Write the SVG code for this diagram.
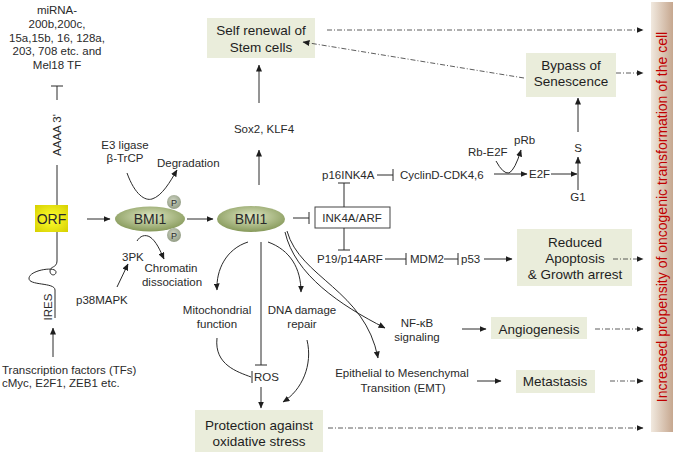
<svg xmlns="http://www.w3.org/2000/svg" width="678" height="453" viewBox="0 0 678 453">
<style>
text{font-family:"Liberation Sans",Arial,sans-serif;fill:#2a2a2a;font-size:11.5px}
.c{text-anchor:middle}
.b{font-size:13.5px;text-anchor:middle;fill:#1e1e1e}
.box{fill:#eaeddb}
.ln{fill:none;stroke:#2a2a2a;stroke-width:1}
.ar{fill:none;stroke:#2a2a2a;stroke-width:1;marker-end:url(#ah)}
.dd{fill:none;stroke:#333;stroke-width:0.8;stroke-dasharray:5 2 1 2;marker-end:url(#ah)}
</style>
<defs>
<marker id="ah" markerWidth="7" markerHeight="6" refX="6.5" refY="3" orient="auto" markerUnits="userSpaceOnUse"><path d="M0,0 L7,3 L0,6 z" fill="#1e1e1e"/></marker>
<radialGradient id="g" cx="50%" cy="40%" r="60%"><stop offset="0" stop-color="#dfe7c3"/><stop offset="1" stop-color="#86995a"/></radialGradient>
<radialGradient id="pg" cx="45%" cy="40%" r="60%"><stop offset="0" stop-color="#d0d6c4"/><stop offset="1" stop-color="#939d85"/></radialGradient>
<radialGradient id="yg" cx="50%" cy="50%" r="70%"><stop offset="0" stop-color="#ffff30"/><stop offset="1" stop-color="#d6d000"/></radialGradient>
<linearGradient id="bar" x1="0" y1="0" x2="1" y2="0"><stop offset="0" stop-color="#f1e9df"/><stop offset="1" stop-color="#c6a78f"/></linearGradient>
</defs>

<g id="bar-node">
<rect x="651" y="2" width="22" height="430" fill="url(#bar)"/>
<text transform="translate(667,217) rotate(-90)" text-anchor="middle" style="font-size:14px;fill:#c00000">Increased propensity of oncogenic transformation of the cell</text>
</g>

<g id="mirna"><text class="c" x="57" y="14">miRNA-</text><text class="c" x="57" y="28">200b,200c,</text><text class="c" x="57" y="42">15a,15b, 16, 128a,</text><text class="c" x="57" y="55">203, 708 etc. and</text><text class="c" x="57" y="69">Mel18 TF</text></g>

<g id="mrna">
<text transform="translate(61,135) rotate(-90)" text-anchor="middle">AAAA 3'</text>
<text transform="translate(52,307) rotate(-90)" text-anchor="middle">IRES</text>
</g>

<g id="orf"><rect x="35" y="205" width="33" height="27" fill="url(#yg)"/><text x="51.5" y="224" class="c" style="font-size:14px">ORF</text></g>

<g id="bmi1a"><ellipse cx="150" cy="219" rx="35" ry="12.5" fill="url(#g)"/><text x="150" y="224" class="c" style="font-size:14px">BMI1</text>
<circle cx="174" cy="202" r="7" fill="url(#pg)"/><text x="174" y="205.5" class="c" style="font-size:9px">P</text>
<circle cx="174" cy="235" r="7" fill="url(#pg)"/><text x="174" y="238.5" class="c" style="font-size:9px">P</text></g>

<g id="bmi1b"><ellipse cx="251" cy="219" rx="34" ry="13" fill="url(#g)"/><text x="251" y="224" class="c" style="font-size:14px">BMI1</text></g>

<g id="e3"><text class="c" x="125" y="149">E3 ligase</text><text class="c" x="125" y="162">β-TrCP</text></g>
<g id="degr"><text x="157" y="167">Degradation</text></g>
<g id="pk3"><text x="122" y="261">3PK</text></g>
<g id="chrom"><text class="c" x="171" y="272">Chromatin</text><text class="c" x="172" y="286">dissociation</text></g>
<g id="p38"><text x="76" y="304">p38MAPK</text></g>
<g id="tfs"><text x="2" y="374">Transcription factors (TFs)</text><text x="2" y="387">cMyc, E2F1, ZEB1 etc.</text></g>

<g id="sox"><text class="c" x="264" y="133">Sox2, KLF4</text></g>
<g id="self"><rect class="box" x="207" y="18" width="108" height="40"/><text class="b" x="261" y="35">Self renewal of</text><text class="b" x="261" y="52">Stem cells</text></g>
<g id="bypass"><rect class="box" x="526" y="53" width="90" height="44"/><text class="b" x="571" y="70">Bypass of</text><text class="b" x="571" y="86">Senescence</text></g>

<g id="ink"><rect x="315" y="207" width="75" height="21" fill="#fff" stroke="#444" stroke-width="1"/><text class="c" x="352" y="222">INK4A/ARF</text></g>
<g id="p16"><text x="322" y="179">p16INK4A</text></g>
<g id="cyc"><text x="400" y="179">CyclinD-CDK4,6</text></g>
<g id="rbe2f"><text x="468" y="156">Rb-E2F</text></g>
<g id="prb"><text x="514" y="144">pRb</text></g>
<g id="e2f"><text x="529" y="178">E2F</text></g>
<g id="s"><text class="c" x="578" y="152">S</text></g>
<g id="g1"><text class="c" x="578" y="201">G1</text></g>
<g id="p19"><text x="317" y="263">P19/p14ARF</text></g>
<g id="mdm2"><text x="410" y="263">MDM2</text></g>
<g id="p53"><text x="461" y="263">p53</text></g>
<g id="reduced"><rect class="box" x="517" y="229" width="115" height="57"/><text class="b" x="575" y="247">Reduced</text><text class="b" x="575" y="263">Apoptosis</text><text class="b" x="575" y="279">&amp; Growth arrest</text></g>

<g id="nfkb"><text class="c" x="417" y="327">NF-κB</text><text class="c" x="417" y="341">signaling</text></g>
<g id="angio"><rect class="box" x="491" y="317" width="96" height="22"/><text class="b" x="539" y="334">Angiogenesis</text></g>
<g id="emt"><text class="c" x="402" y="377">Epithelial to Mesenchymal</text><text class="c" x="403" y="392">Transition (EMT)</text></g>
<g id="meta"><rect class="box" x="516" y="370" width="79" height="23"/><text class="b" x="555" y="386">Metastasis</text></g>

<g id="mito"><text class="c" x="217" y="314">Mitochondrial</text><text class="c" x="217" y="328">function</text></g>
<g id="dna"><text class="c" x="302" y="314">DNA damage</text><text class="c" x="302" y="328">repair</text></g>
<g id="ros"><text x="254" y="381">ROS</text></g>
<g id="prot"><rect class="box" x="195" y="410" width="128" height="42"/><text class="b" x="259" y="430">Protection against</text><text class="b" x="259" y="446">oxidative stress</text></g>

<g id="connectors">
<path class="ln" d="M57,100 L57,86 M51,86 L63,86"/>
<path class="ln" d="M57,165 L57,205"/>
<path class="ln" d="M57,232 L57,261 C57,268 50,266 50,271 C50,276 56,276 56,272 C56,266 30,270 29,278 C28,286 55,282 55,290 L55,318"/>
<path class="ar" d="M53,357 L53,328"/>
<path class="ar" d="M87,219 L110,219"/>
<path class="ar" d="M187,219 L213,219"/>
<path class="ar" d="M127,173 C135,195 145,201 152,199 C162,196 170,182 177,170"/>
<path class="ar" d="M137,241 C140,236 145,234 150,237 C156,241 160,250 164,259"/>
<path class="ar" d="M117,287 L128,264"/>
<path class="ar" d="M259,185 L259,150"/>
<path class="ar" d="M259,103 L259,65"/>
<path class="ln" d="M293,218 L309,218 M309,212 L309,224"/>
<path class="ln" d="M344,207 L344,183 M338,183 L350,183"/>
<path class="ln" d="M344,228 L344,250 M338,250 L350,250"/>
<path class="ln" d="M377,175 L393,175 M393,169 L393,181"/>
<path class="ln" d="M385,259 L406,259 M406,253 L406,265"/>
<path class="ln" d="M444,259 L458,259 M458,253 L458,265"/>
<path class="ar" d="M484,259 L512,259"/>
<path class="ar" d="M494,174 L527,174"/>
<path class="ar" d="M496,161 Q503,174 509,173 Q515,170 521,150"/>
<path class="ar" d="M551,174 L577,174"/>
<path class="ar" d="M578,190 L578,157"/>
<path class="ar" d="M578,132 L578,98"/>
<path class="ar" d="M248,242 C226,249 216,270 217,290"/>
<path class="ln" d="M261,242 L261,365 M255,365 L267,365"/>
<path class="ar" d="M268,242 C290,250 301,268 301,292"/>
<path class="ar" d="M285,232 C295,275 340,305 385,328"/>
<path class="ar" d="M287,231 C300,278 365,290 378,358"/>
<path class="ln" d="M217,338 C214,365 238,372 251,377 M252,371 L252,383"/>
<path class="ar" d="M261,387 L261,408"/>
<path class="ar" d="M307,340 C313,365 302,390 283,402"/>
<path class="ar" d="M462,329 L486,329"/>
<path class="ar" d="M477,381 L501,381"/>
<path class="dd" d="M327,30 L643,30"/>
<path class="dd" d="M616,73 L643,73"/>
<path class="dd" d="M524,78 L303,42"/>
<path class="dd" d="M613,259 L643,259"/>
<path class="dd" d="M595,329 L643,329"/>
<path class="dd" d="M610,381 L643,381"/>
<path class="dd" d="M328,428 L643,428"/>
</g>
</svg>
